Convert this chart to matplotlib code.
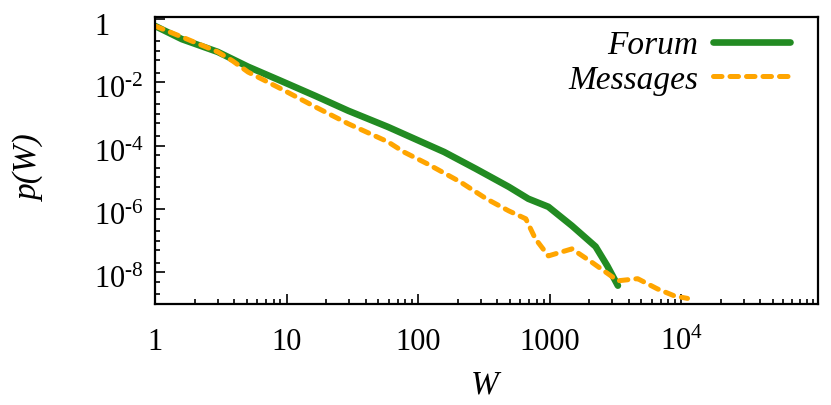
import numpy as np
import matplotlib
matplotlib.use('Agg')
import matplotlib.pyplot as plt
from matplotlib.transforms import blended_transform_factory, ScaledTranslation
from matplotlib.ticker import NullFormatter

# --- Datos ---
w_forum = [1, 1.6, 3.0, 5.1, 9.1, 16.6, 29.5, 59, 87, 158, 275, 490, 690, 980, 1480, 2240, 2750, 3310]
p_forum = [0.6, 0.23, 0.091, 0.031, 0.011, 3.7e-3, 1.26e-3, 3.9e-4, 1.9e-4, 6.3e-5,
           1.86e-5, 5.0e-6, 2.1e-6, 1.17e-6, 2.95e-7, 6.5e-8, 1.6e-8, 3.8e-9]

w_msg = [1, 1.6, 3.0, 3.9, 5.1, 9.1, 16.6, 29.5, 59, 78, 117, 209, 331, 490, 660, 780,
         980, 1480, 2090, 3310, 4680, 6610, 8910, 11200]
p_msg = [0.6, 0.27, 0.091, 0.047, 0.021, 6.2e-3, 1.66e-3, 4.9e-4, 1.32e-4, 6.3e-5, 2.7e-5,
         7.2e-6, 2.1e-6, 8.7e-7, 4.9e-7, 1.15e-7, 3.3e-8, 5.5e-8, 2.1e-8, 5.4e-9, 6.3e-9,
         3.0e-9, 1.8e-9, 1.5e-9]

xtick_vals = [1, 10, 100, 1000, 1e4]
xtick_labels = ['1', '10', '100', '1000', r'$10^{4}$']
ytick_vals = [1, 1e-2, 1e-4, 1e-6, 1e-8]
ytick_labels = ['1', r'$10^{\text{-}2}$', r'$10^{\text{-}4}$', r'$10^{\text{-}6}$', r'$10^{\text{-}8}$']

# --- Estilo ---
plt.rcParams['font.family'] = 'Liberation Serif'
plt.rcParams['mathtext.fontset'] = 'custom'
plt.rcParams['mathtext.rm'] = 'Liberation Serif'
plt.rcParams['mathtext.it'] = 'Liberation Serif:italic'

VERDE = '#228B22'
NARANJA = '#FFA500'
FS = 22

fig = plt.figure(figsize=(8.31, 4.06), dpi=100)
ax = fig.add_axes([155/831, 1 - 305/406, 663/831, 287/406])

ax.plot(w_forum, p_forum, color=VERDE, lw=4.8, solid_capstyle='round', label='Forum')
ax.plot(w_msg, p_msg, color=NARANJA, lw=3.6, dashes=(1.7, 1.6), dash_capstyle='round',
        label='Messages')

ax.set_xscale('log')
ax.set_yscale('log')
ax.set_xlim(1, 1.1e5)
ax.set_ylim(1e-9, 1.15)

# Ticks
ax.set_xticks(xtick_vals)
ax.set_xticks([m * 10**k for k in range(5) for m in range(2, 10)] + [1e5], minor=True)
ax.set_yticks(ytick_vals)
ax.set_yticks([m * 10.0**(-k) for k in range(1, 10) for m in (1, 2, 5)
               if m * 10.0**(-k) not in ytick_vals], minor=True)
ax.xaxis.set_major_formatter(NullFormatter())
ax.xaxis.set_minor_formatter(NullFormatter())
ax.yaxis.set_major_formatter(NullFormatter())
ax.yaxis.set_minor_formatter(NullFormatter())
ax.tick_params(which='both', direction='in', top=False, right=False, width=1.2)
ax.tick_params(which='major', length=7)
ax.tick_params(which='minor', length=3.5)
for s in ax.spines.values():
    s.set_linewidth(1.6)

# Etiquetas de ticks (manuales, alineadas por linea base)
tx = blended_transform_factory(ax.transData, ax.transAxes) + ScaledTranslation(0, -0.45, fig.dpi_scale_trans)
for v, s in zip(xtick_vals, xtick_labels):
    ax.text(v, 0, s, transform=tx, ha='center', va='baseline', fontsize=FS)
ty = blended_transform_factory(fig.transFigure, ax.transData) + ScaledTranslation(0, -0.15, fig.dpi_scale_trans)
for v, s in zip(ytick_vals, ytick_labels):
    ax.text(94/831, v, s, transform=ty, ha='left', va='baseline', fontsize=FS)

fig.text(30/831, 1 - 168/406, 'p(W)', rotation=90, ha='center', va='center',
         fontsize=FS + 2, fontstyle='italic')
fig.text(485/831, 1 - 385/406, 'W', ha='center', va='center', fontsize=FS + 2, fontstyle='italic')

leg = ax.legend(loc='upper right', bbox_to_anchor=(790/831, 1 - 31/406), bbox_transform=fig.transFigure,
                frameon=False, markerfirst=False, handlelength=2.3, handletextpad=0.45,
                borderaxespad=0, borderpad=0, labelspacing=0.12,
                prop={'family': 'Liberation Serif', 'style': 'italic', 'size': FS + 2})

fig.savefig('out.png', dpi=100)
